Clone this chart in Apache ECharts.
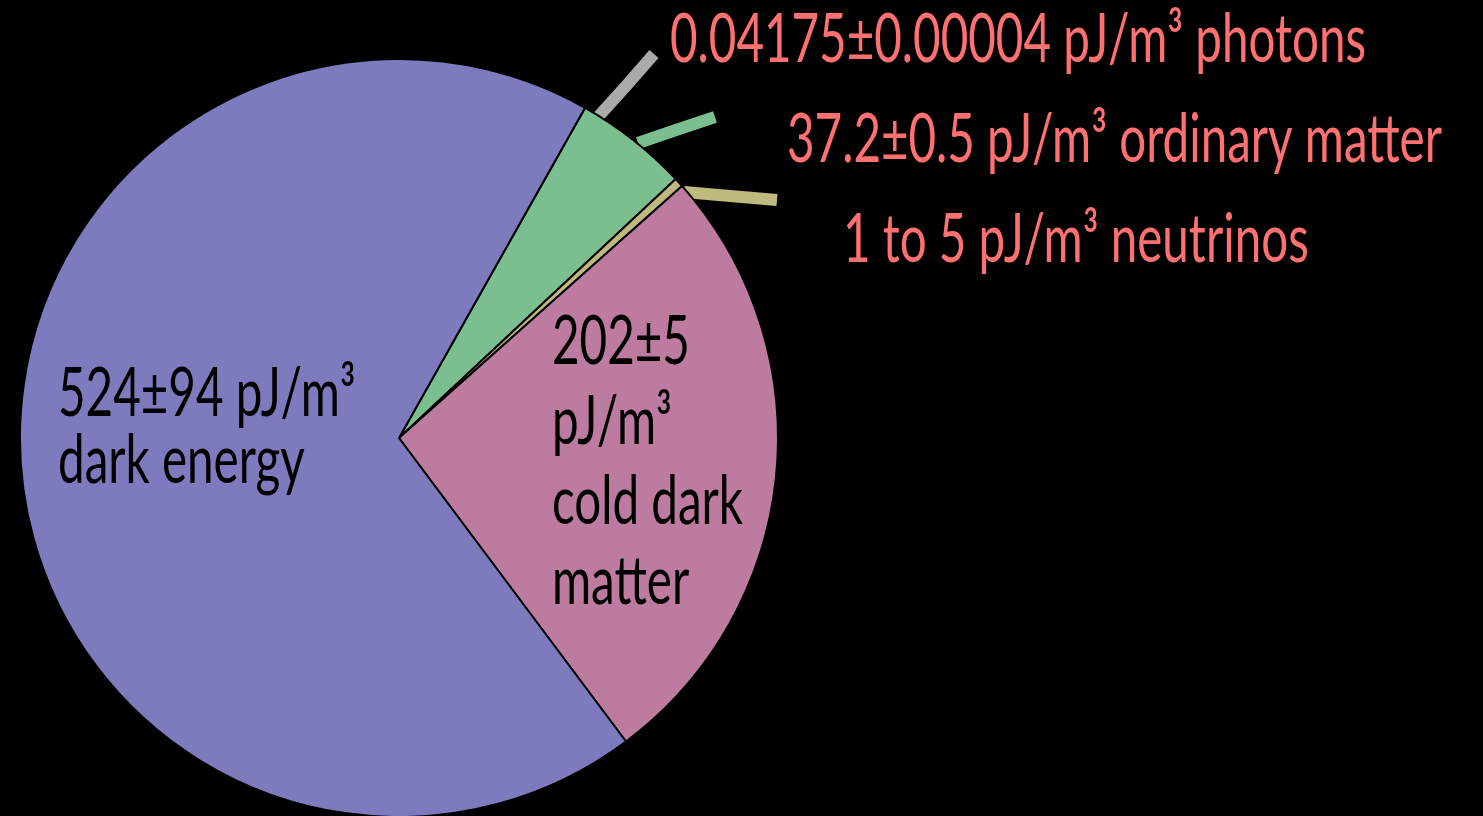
<!DOCTYPE html>
<html>
<head>
<meta charset="utf-8">
<script src="https://cdn.jsdelivr.net/npm/echarts@6/dist/echarts.min.js"></script>
<style>
html,body{margin:0;padding:0;background:#000;}
#chart{width:1483px;height:816px;}
</style>
</head>
<body>
<div id="chart"></div>
<script>
// ---- data ----
const categories = ['photons', 'ordinary matter', 'neutrinos', 'cold dark matter', 'dark energy'];
const values = [0.04175, 37.2, 3, 202, 524];
const labelTexts = [
  '0.04175±0.00004 pJ/m³ photons',
  '37.2±0.5 pJ/m³ ordinary matter',
  '1 to 5 pJ/m³ neutrinos',
  '202±5\npJ/m³\ncold dark\nmatter',
  '524±94 pJ/m³\ndark energy'
];

// ---- styles / layout ----
const sliceColors = ['#aaaaaa', '#7bbe8f', '#bfb87f', '#bd7ba0', '#7d7bbd'];
const FONT_FAMILY = 'Lato';
const FS = 67;
// condensed look: measure a reference line and compress horizontally
const meas = document.createElement('canvas').getContext('2d');
meas.font = FS + 'px ' + FONT_FAMILY;
const SX = 655 / meas.measureText(labelTexts[1]).width;

const outside = [true, true, true, false, false];
const labelPos = [
  { x: 670, y: 40, va: 'middle' },
  { x: 787, y: 140, va: 'middle' },
  { x: 843, y: 240, va: 'middle' },
  { x: 552, y: 302, va: 'top' },
  { x: 58, y: 361, va: 'top' }
];
const linePts = [
  [[598, 117], [626, 86], [654, 54]],
  [[638, 143], [676, 130], [715, 117]],
  [[684, 192], [730, 196], [777, 200]],
  null, null
];
const lineHeights = [FS, FS, FS, 80, 67];

const data = categories.map((name, i) => ({
  name: name,
  value: values[i],
  itemStyle: { color: sliceColors[i] },
  label: {
    show: true,
    formatter: labelTexts[i],
    position: outside[i] ? 'outside' : 'inside',
    color: outside[i] ? '#ff7070' : '#000',
    fontFamily: FONT_FAMILY,
    fontSize: FS,
    lineHeight: lineHeights[i],
    align: 'left'
  },
  labelLine: {
    show: outside[i],
    lineStyle: { color: sliceColors[i], width: 12, cap: 'butt' }
  }
}));

const chart = echarts.init(document.getElementById('chart'), null, { renderer: 'canvas' });
chart.setOption({
  backgroundColor: '#000',
  animation: false,
  series: [{
    type: 'pie',
    center: [399, 438],
    radius: 379,
    startAngle: 60.6,
    clockwise: true,
    avoidLabelOverlap: false,
    itemStyle: { borderColor: '#000', borderWidth: 2 },
    emphasis: { disabled: true },
    data: data,
    labelLayout: function (params) {
      const i = params.dataIndex;
      const p = labelPos[i];
      const res = { x: p.x, y: p.y, align: 'left', verticalAlign: p.va };
      if (linePts[i]) res.labelLinePoints = linePts[i];
      return res;
    }
  }]
});

// compress the label glyphs horizontally (condensed typeface look)
function condenseLabels() {
  try {
    const seriesModel = chart.getModel().getSeriesByIndex(0);
    const d = seriesModel.getData();
    for (let i = 0; i < d.count(); i++) {
      const el = d.getItemGraphicEl(i);
      const t = el && el.getTextContent && el.getTextContent();
      if (t) { t.scaleX = SX; t.markRedraw(); el.markRedraw(); }
    }
    chart.getZr().refreshImmediately();
  } catch (e) { console.error(e); }
}
condenseLabels();
</script>
</body>
</html>
